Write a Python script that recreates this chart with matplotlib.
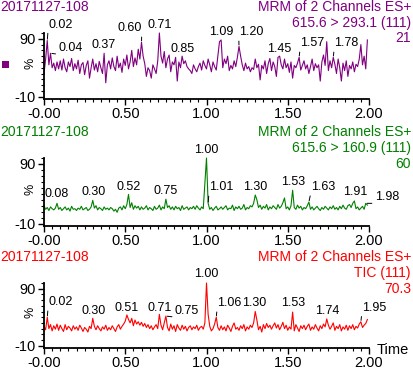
import numpy as np
import matplotlib
matplotlib.use('Agg')
import matplotlib.pyplot as plt
from matplotlib.patches import Rectangle
from matplotlib.ticker import FixedLocator

plt.rcParams['font.family'] = ['Liberation Sans', 'DejaVu Sans']

#################################################################################
# data (% of channel max)
#################################################################################
sample_name = '20171127-108'
scan_time = np.arange(200) / 100.0          # 0.00 .. 1.99 min, one scan per 0.01

mrm_293 = [30, 55, 87, 45, 65, 40, 48, 35, 50, 38,
           52, 36, 55, 40, 33, 50, 42, 56, 35, 47,
           38, 53, 30, 45, 49, 28, 44, 52, 22, 40,
           55, 36, 47, 33, 51, 40, 30, 65, 14, 45,
           52, 38, 57, 42, 35, 60, 40, 48, 32, 55,
           44, 62, 38, 50, 70, 42, 57, 45, 72, 55,
           84, 60, 47, 25, 40, 35, 22, 45, 38, 30,
           52, 100, 60, 48, 68, 40, 55, 62, 33, 50,
           45, 58, 17, 50, 40, 60, 47, 52, 42, 38,
           35, 30, 45, 38, 33, 42, 48, 36, 52, 44,
           38, 55, 45, 33, 50, 42, 36, 60, 85, 88,
           40, 55, 47, 60, 35, 44, 38, 52, 42, 58,
           77, 60, 45, 35, 48, 38, 42, 33, 40, 37,
           55, 40, 46, 19, 44, 38, 52, 30, 47, 56,
           35, 50, 42, 25, 58, 60, 45, 38, 55, 40,
           47, 32, 50, 22, 44, 40, 48, 58, 36, 44,
           52, 38, 45, 30, 42, 55, 35, 47, 40, 45,
           17, 50, 62, 44, 85, 35, 52, 40, 58, 46,
           30, 55, 40, 17, 48, 35, 52, 25, 44, 38,
           50, 33, 46, 42, 55, 80, 45, 60, 38, 88]

mrm_160 = [20, 14, 17, 12, 18, 15, 13, 16, 24, 14,
           17, 12, 15, 18, 13, 16, 11, 19, 14, 15,
           12, 16, 14, 19, 13, 15, 17, 12, 14, 18,
           29, 16, 20, 13, 17, 15, 12, 18, 14, 16,
           13, 17, 15, 11, 14, 9, 16, 18, 13, 20,
           15, 22, 39, 17, 25, 14, 20, 16, 19, 13,
           18, 14, 16, 20, 13, 17, 15, 12, 19, 14,
           16, 21, 13, 18, 15, 31, 17, 20, 14, 18,
           13, 19, 15, 17, 12, 20, 14, 16, 18, 13,
           17, 15, 19, 14, 20, 16, 13, 18, 15, 57,
           100, 24, 14, 17, 12, 16, 19, 13, 15, 18,
           14, 17, 20, 13, 16, 15, 21, 12, 18, 15,
           19, 14, 16, 22, 13, 17, 15, 20, 18, 24,
           38, 30, 17, 21, 14, 19, 16, 22, 13, 18,
           15, 20, 17, 14, 22, 16, 19, 25, 33, 15,
           18, 13, 20, 46, 17, 14, 21, 16, 19, 13,
           17, 15, 20, 26, 14, 18, 13, 16, 19, 15,
           12, 17, 14, 19, 16, 13, 18, 15, 20, 14,
           17, 13, 19, 15, 21, 16, 14, 20, 22, 17,
           24, 28, 15, 18, 13, 16, 19, 14, 24, 21]

tic = [24, 18, 40, 20, 27, 16, 25, 19, 28, 17,
       26, 20, 15, 27, 18, 24, 21, 16, 25, 19,
       23, 17, 26, 21, 15, 22, 19, 14, 24, 20,
       38, 24, 18, 25, 20, 16, 23, 19, 26, 17,
       22, 18, 25, 20, 15, 23, 27, 19, 24, 28,
       33, 44, 36, 30, 38, 25, 35, 28, 32, 26,
       31, 24, 29, 22, 27, 20, 25, 18, 23, 27,
       20, 45, 26, 18, 30, 42, 22, 16, 28, 19,
       25, 15, 27, 21, 17, 26, 19, 24, 16, 22,
       25, 18, 23, 20, 26, 17, 22, 24, 19, 30,
       100, 45, 24, 16, 20, 28, 40, 22, 17, 25,
       18, 23, 16, 26, 21, 15, 24, 30, 19, 22,
       17, 25, 20, 27, 16, 23, 19, 26, 22, 30,
       50, 35, 18, 24, 14, 27, 20, 29, 22, 26,
       19, 25, 30, 21, 27, 18, 24, 31, 20, 26,
       17, 23, 19, 49, 16, 27, 21, 15, 25, 20,
       26, 18, 24, 28, 17, 23, 19, 27, 21, 16,
       25, 20, 28, 23, 37, 26, 19, 24, 30, 17,
       24, 20, 27, 16, 23, 19, 26, 17, 25, 20,
       27, 18, 24, 21, 28, 32, 22, 26, 29, 36]

peaks_293 = ['0.02', '0.04', '0.37', '0.60', '0.71', '0.85', '1.09', '1.20', '1.45', '1.57', '1.78']
peaks_160 = ['0.08', '0.30', '0.52', '0.75', '1.00', '1.01', '1.30', '1.53', '1.63', '1.91', '1.98']
peaks_tic = ['0.02', '0.30', '0.51', '0.71', '0.75', '1.00', '1.06', '1.30', '1.53', '1.74', '1.95']

header_293 = ['MRM of 2 Channels ES+', '615.6 > 293.1 (111)', '21']
header_160 = ['MRM of 2 Channels ES+', '615.6 > 160.9 (111)', '60']
header_tic = ['MRM of 2 Channels ES+', 'TIC (111)', '70.3']

x_ticks = [0.0, 0.5, 1.0, 1.5, 2.0]
x_tick_labels = ['-0.00', '0.50', '1.00', '1.50', '2.00']

#################################################################################
# layout: label offsets in pixels (dx, dy, leader corner)
#################################################################################
off_293 = [(13, 16, 'l'), (20, 5, 'l'), (0, 8, ''), (-12, 14, 'r'), (0, 8, ''), (0, 7, ''),
           (0, 8, ''), (12, 14, 'l'), (0, 7, ''), (13, 14, 'l'), (13, 14, 'l')]
off_160 = [(0, 9, ''), (1, 8, ''), (0, 7, ''), (0, 8, ''), (0, 8, ''), (13, 16, 'l'),
           (0, 8, ''), (0, 8, ''), (14, 15, 'l'), (1, 9, ''), (21, 6, 'l')]
off_tic = [(13, 15, 'l'), (1, 7, ''), (0, 7, ''), (0, 6, ''), (21, 5, 'l'), (0, 9, ''),
           (13, 14, 'l'), (-1, 9, ''), (1, 9, ''), (1, 8, ''), (13, 14, 'l')]

W, H = 413, 371

panels = [
    # trace, colour, peaks, offsets, header, axes top px, axes bottom px, header y px
    (mrm_293, '#800080', peaks_293, off_293, header_293, 33, 99, [7, 23, 38]),
    (mrm_160, '#008000', peaks_160, off_160, header_160, 158, 226, [132, 148, 164]),
    (tic, '#ff0000', peaks_tic, off_tic, header_tic, 283, 348, [257, 273, 289]),
]


def fy(px):
    return 1 - px / H


fig = plt.figure(figsize=(W / 100, H / 100), dpi=100)

for trace, col, peaks, offs, header, top, bot, hy in panels:
    ax = fig.add_axes([44 / W, fy(bot), 325 / W, (bot - top) / H])
    ax.plot(scan_time, trace, color=col, lw=0.8, clip_on=False)
    ax.set_xlim(0, 2.0)
    ax.set_ylim(-14, 100)

    for s in ['top', 'right']:
        ax.spines[s].set_visible(False)
    for s in ['left', 'bottom']:
        ax.spines[s].set_linewidth(1.3)

    ax.set_xticks(x_ticks)
    ax.set_xticklabels(x_tick_labels)
    ax.xaxis.set_minor_locator(FixedLocator(np.arange(0, 2.001, 0.05)))
    ax.set_yticks([-10, 90])
    ax.set_yticklabels(['-10', '90'])
    ax.yaxis.set_minor_locator(FixedLocator(np.arange(-10, 101, 10)))
    ax.tick_params(which='major', direction='out', length=4, width=1, labelsize=10.5, pad=2)
    ax.tick_params(which='minor', direction='out', length=2.5, width=0.8)

    ax.text(-0.04, 48, '%', transform=ax.get_yaxis_transform(), rotation=90,
            ha='center', va='center', fontsize=9)

    # peak labels
    for lbl, (dx, dy, lead) in zip(peaks, offs):
        i = int(round(float(lbl) * 100))
        kw = {}
        if lead:
            kw['arrowprops'] = dict(arrowstyle='-', color='black', lw=0.7,
                                    shrinkA=0, shrinkB=1,
                                    relpos=(0, 0) if lead == 'l' else (1, 0))
        ax.annotate(lbl, xy=(scan_time[i], trace[i]), xytext=(dx, dy),
                    textcoords='offset pixels', ha='center', va='center',
                    fontsize=9, annotation_clip=False, **kw)

    # headers
    fig.text(0, fy(hy[0]), sample_name, color=col, fontsize=10, ha='left', va='center')
    for txt, y in zip(header, hy):
        fig.text(411 / W, fy(y), txt, color=col, fontsize=10, ha='right', va='center')

fig.patches.append(Rectangle((2 / W, fy(68)), 7 / W, 7 / H, transform=fig.transFigure,
                             facecolor='#800080', edgecolor='none'))
fig.text(377 / W, fy(350), 'Time', fontsize=10.5, ha='left', va='center')

fig.savefig('out.png', dpi=100)
